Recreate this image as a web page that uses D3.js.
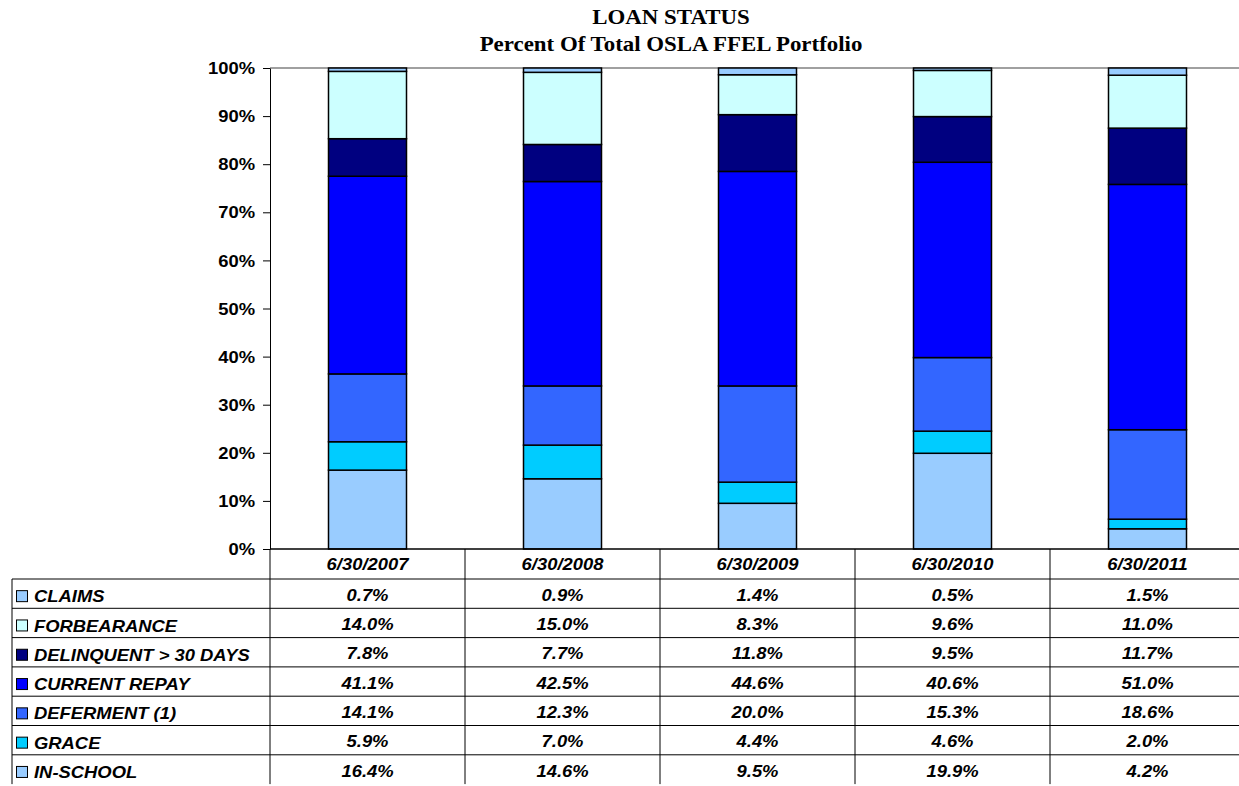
<!DOCTYPE html>
<meta charset="utf-8">
<style>
body { margin: 0; background: #fff; }
.axis text { font-family: "Liberation Sans", Arial, sans-serif; font-weight: bold; font-size: 16px; fill: #000; }
.axis path, .axis line { stroke: #000; }
.title { font-family: "Liberation Serif", "Times New Roman", serif; font-weight: bold; font-size: 22px; text-anchor: middle; }
.cell { font-family: "Liberation Sans", Arial, sans-serif; font-weight: bold; font-style: italic; font-size: 16px; }
</style>
<svg width="1239" height="786"></svg>
<script src="https://d3js.org/d3.v7.min.js"></script>
<script>

var dates = ["6/30/2007", "6/30/2008", "6/30/2009", "6/30/2010", "6/30/2011"];

// table order (top to bottom) = stack order reversed
var statuses = ["CLAIMS", "FORBEARANCE", "DELINQUENT > 30 DAYS", "CURRENT REPAY", "DEFERMENT (1)", "GRACE", "IN-SCHOOL"];
var colors = ["#99ccff", "#ccffff", "#000080", "#0000ff", "#3366ff", "#00ccff", "#99ccff"];

var claims       = [0.7, 0.9, 1.4, 0.5, 1.5];
var forbearance  = [14.0, 15.0, 8.3, 9.6, 11.0];
var delinquent   = [7.8, 7.7, 11.8, 9.5, 11.7];
var currentRepay = [41.1, 42.5, 44.6, 40.6, 51.0];
var deferment    = [14.1, 12.3, 20.0, 15.3, 18.6];
var grace        = [5.9, 7.0, 4.4, 4.6, 2.0];
var inSchool     = [16.4, 14.6, 9.5, 19.9, 4.2];

var values = [claims, forbearance, delinquent, currentRepay, deferment, grace, inSchool];
var yTicks = [0, 10, 20, 30, 40, 50, 60, 70, 80, 90, 100];

var svg = d3.select("svg"),
    plotLeft = 270, plotRight = 1245, plotTop = 68, plotBottom = 549,
    tableLeft = 12, headerH = 30, rowH = 29.3,
    stretch = 1.15; // reference text is drawn a bit wide

var x = d3.scaleBand().domain(dates).range([plotLeft, plotRight]).paddingInner(0);
var y = d3.scaleLinear().domain([0, 100]).range([plotBottom, plotTop]);
var barW = x.bandwidth() * 0.4;

// wide text helper
function wideText(g, cls, tx, ty, anchor, str) {
  return g.append("text")
      .attr("class", cls)
      .attr("transform", "translate(" + tx + "," + ty + ") scale(" + stretch + ",1)")
      .attr("dy", "0.35em")
      .attr("text-anchor", anchor)
      .text(str);
}

// build stacked rows
var rows = dates.map(function(d, i) {
  var r = {date: d};
  statuses.forEach(function(s, k) { r[s] = values[k][i]; });
  return r;
});
var stackKeys = statuses.slice().reverse();
var series = d3.stack().keys(stackKeys)(rows);

// title
svg.append("text").attr("class", "title").attr("transform", "translate(671,24) scale(1.04,1)").text("LOAN STATUS");
svg.append("text").attr("class", "title").attr("transform", "translate(671,51) scale(1.04,1)").text("Percent Of Total OSLA FFEL Portfolio");

// top border of plot
svg.append("line")
    .attr("x1", plotLeft).attr("x2", plotRight).attr("y1", plotTop).attr("y2", plotTop)
    .attr("stroke", "#808080").attr("stroke-width", 1.5);

// bars
svg.append("g").selectAll("g")
  .data(series)
  .enter().append("g")
    .attr("fill", function(s) { return colors[statuses.indexOf(s.key)]; })
  .selectAll("rect")
  .data(function(s) { return s; })
  .enter().append("rect")
    .attr("x", function(d) { return x(d.data.date) + (x.bandwidth() - barW) / 2; })
    .attr("y", function(d) { return y(Math.min(d[1], 100)); })
    .attr("width", barW)
    .attr("height", function(d) { return y(d[0]) - y(Math.min(d[1], 100)); })
    .attr("stroke", "#000").attr("stroke-width", 1.5);

// y axis
svg.append("g")
    .attr("class", "axis")
    .attr("transform", "translate(" + plotLeft + ",0)")
    .call(d3.axisLeft(y).tickValues(yTicks).tickSize(7).tickPadding(7).tickSizeOuter(0)
      .tickFormat(function(d) { return d + "%"; }))
    .call(function(g) {
      g.selectAll("text")
          .attr("x", -15 / stretch)
          .attr("dy", "0.35em")
          .attr("transform", "scale(" + stretch + ",1)");
    });

// baseline
svg.append("line")
    .attr("x1", plotLeft).attr("x2", plotRight).attr("y1", plotBottom).attr("y2", plotBottom)
    .attr("stroke", "#000").attr("stroke-width", 1.5);

// data table
var table = svg.append("g");
var tableBottom = plotBottom + headerH + rowH * statuses.length;

statuses.forEach(function(s, k) {
  var yy = plotBottom + headerH + rowH * k;
  table.append("line")
      .attr("x1", tableLeft).attr("x2", plotRight).attr("y1", yy).attr("y2", yy)
      .attr("stroke", "#000").attr("stroke-width", 1);
});

table.append("line")
    .attr("x1", tableLeft).attr("x2", tableLeft)
    .attr("y1", plotBottom + headerH).attr("y2", tableBottom)
    .attr("stroke", "#000");
dates.forEach(function(d) {
  table.append("line")
      .attr("x1", x(d)).attr("x2", x(d))
      .attr("y1", plotBottom).attr("y2", tableBottom)
      .attr("stroke", "#000").attr("stroke-width", 1);
});

// header
dates.forEach(function(d) {
  wideText(table, "cell", x(d) + x.bandwidth() / 2, plotBottom + headerH / 2, "middle", d);
});

// legend labels and values
statuses.forEach(function(s, k) {
  var rowTop = plotBottom + headerH + rowH * k;
  var cy = rowTop + rowH / 2 + 3;
  table.append("rect")
      .attr("x", 16.5).attr("y", cy - 6).attr("width", 11).attr("height", 11)
      .attr("fill", colors[k]).attr("stroke", "#000").attr("stroke-width", 1);
  wideText(table, "cell", 34, cy, "start", s);
  dates.forEach(function(d, i) {
    wideText(table, "cell", x(d) + x.bandwidth() / 2, cy - 1.5, "middle", values[k][i].toFixed(1) + "%");
  });
});

</script>
